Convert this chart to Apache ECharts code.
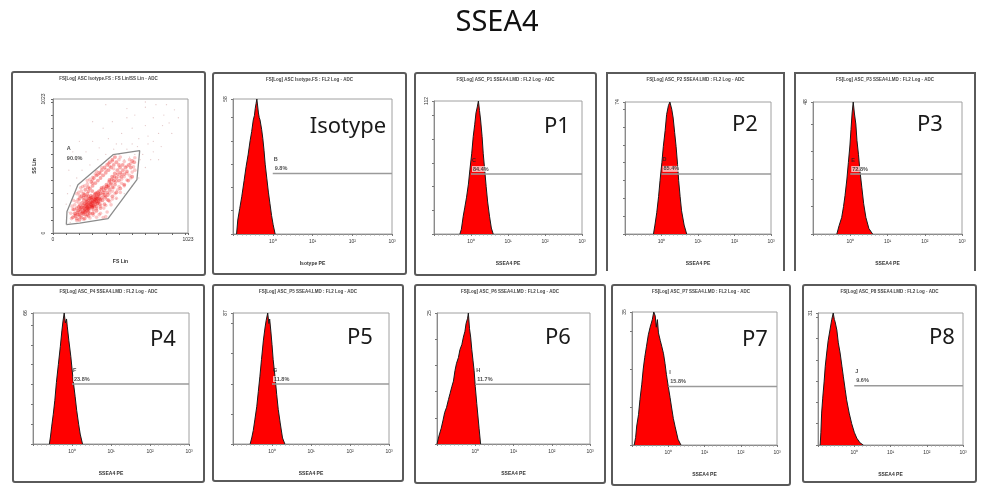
<!DOCTYPE html>
<html><head><meta charset="utf-8">
<script src="https://cdn.jsdelivr.net/npm/echarts@6/dist/echarts.min.js"></script>
<style>html,body{margin:0;padding:0;background:#fff}#c{width:994px;height:496px}</style>
</head><body><div id="c"></div>
<script>
// ---------------- DATA ----------------
const chartTitle = 'SSEA4';
const panelNames = ['Isotype', 'P1', 'P2', 'P3', 'P4', 'P5', 'P6', 'P7', 'P8'];
const panelHeaders = [
  'FS[Log] ASC Isotype.FS : FS Lin/SS Lin - ADC',
  'FS[Log] ASC Isotype.FS : FL2 Log - ADC',
  'FS[Log] ASC_P1 SSEA4.LMD : FL2 Log - ADC',
  'FS[Log] ASC_P2 SSEA4.LMD : FL2 Log - ADC',
  'FS[Log] ASC_P3 SSEA4.LMD : FL2 Log - ADC',
  'FS[Log] ASC_P4 SSEA4.LMD : FL2 Log - ADC',
  'FS[Log] ASC_P5 SSEA4.LMD : FL2 Log - ADC',
  'FS[Log] ASC_P6 SSEA4.LMD : FL2 Log - ADC',
  'FS[Log] ASC_P7 SSEA4.LMD : FL2 Log - ADC',
  'FS[Log] ASC_P8 SSEA4.LMD : FL2 Log - ADC'
];
const gateLetters = ['B', 'C', 'D', 'E', 'F', 'G', 'H', 'I', 'J'];
const gatePercents = ['9.8%', '84.4%', '85.4%', '72.8%', '23.8%', '11.8%', '11.7%', '15.8%', '9.6%'];
const yMaxLabels = [58, 112, 74, 48, 66, 87, 25, 35, 31];
const gateLevels = [26, 50.5, 33.7, 21.8, 30.2, 39.8, 11.4, 15.4, 13.9];
const xTickLabels = ['10⁰', '10¹', '10²', '10³'];
const xAxisNames = ['Isotype PE', 'SSEA4 PE', 'SSEA4 PE', 'SSEA4 PE', 'SSEA4 PE', 'SSEA4 PE', 'SSEA4 PE', 'SSEA4 PE', 'SSEA4 PE'];

// histograms: [log10(intensity), count]
const histIsotype = [[-0.91,0],[-0.88,6],[-0.83,11],[-0.78,16],[-0.72,23],[-0.67,29],[-0.62,34],[-0.57,40],[-0.53,44],[-0.49,49],[-0.46,51],[-0.44,54],[-0.42,56],[-0.40,58],[-0.38,55],[-0.36,52],[-0.34,50],[-0.32,49],[-0.28,45],[-0.25,41],[-0.22,36],[-0.19,30],[-0.15,24],[-0.11,18],[-0.07,13],[-0.03,8],[0.01,4],[0.06,0]];
const histP1 = [[-0.30,0],[-0.26,4],[-0.21,15],[-0.17,22],[-0.12,31],[-0.07,42],[-0.03,54],[0.02,68],[0.06,82],[0.10,92],[0.135,102],[0.17,107],[0.20,112],[0.23,104],[0.26,96],[0.30,82],[0.33,68],[0.37,54],[0.41,40],[0.45,27],[0.50,15],[0.55,5],[0.60,0]];
const histP2 = [[-0.22,0],[-0.18,5],[-0.13,12],[-0.08,21],[-0.04,30],[0.01,40],[0.05,49],[0.10,58],[0.14,67],[0.19,72],[0.23,74],[0.28,70],[0.32,65],[0.36,57],[0.40,49],[0.44,39],[0.47,30],[0.51,21],[0.55,13],[0.62,5],[0.69,0]];
const histP3 = [[-0.36,0],[-0.30,3],[-0.23,6],[-0.18,10],[-0.14,14],[-0.09,20],[-0.05,26],[-0.01,32],[0.02,38],[0.05,44],[0.08,48],[0.11,44],[0.15,40],[0.18,34],[0.22,29],[0.26,23],[0.31,17],[0.36,11],[0.42,6],[0.50,2],[0.60,0]];
const histP4 = [[-0.58,0],[-0.55,4],[-0.52,9],[-0.48,15],[-0.44,22],[-0.40,31],[-0.35,40],[-0.30,49],[-0.26,57],[-0.23,62],[-0.20,66],[-0.17,61],[-0.14,63],[-0.12,59],[-0.08,52],[-0.03,44],[0.03,32],[0.08,24],[0.12,17],[0.17,10],[0.21,5],[0.27,0]];
const histP5 = [[-0.56,0],[-0.52,4],[-0.48,9],[-0.44,16],[-0.39,25],[-0.35,35],[-0.31,45],[-0.27,56],[-0.22,69],[-0.18,77],[-0.15,82],[-0.11,87],[-0.08,80],[-0.06,83],[-0.03,75],[0.00,66],[0.03,56],[0.08,44],[0.12,33],[0.16,23],[0.21,14],[0.27,4],[0.33,0]];
const histP6 = [[-1.00,0],[-0.95,1.5],[-0.89,3],[-0.84,4.6],[-0.80,6],[-0.75,7],[-0.70,8.5],[-0.66,9.6],[-0.61,11],[-0.57,12],[-0.53,14],[-0.49,15.4],[-0.44,16.5],[-0.40,18],[-0.35,19],[-0.31,20.4],[-0.27,21.5],[-0.24,23],[-0.20,24],[-0.18,25],[-0.15,22],[-0.12,20.4],[-0.09,18],[-0.06,16],[-0.03,14],[0.00,11],[0.04,7.7],[0.10,3],[0.14,0]];
const histP7 = [[-0.94,0],[-0.90,2],[-0.87,5],[-0.82,8],[-0.78,12],[-0.73,16],[-0.69,20],[-0.65,23],[-0.60,26],[-0.55,29],[-0.50,31],[-0.44,33],[-0.40,35],[-0.36,34],[-0.33,31],[-0.30,33],[-0.27,29.5],[-0.22,27.5],[-0.18,26],[-0.13,24],[-0.09,21.5],[-0.05,18.5],[0.00,15.4],[0.05,12.5],[0.09,10],[0.14,7],[0.19,4.8],[0.27,1.5],[0.35,0]];
const histP8 = [[-0.94,0],[-0.92,3],[-0.90,7.5],[-0.87,11],[-0.83,15],[-0.80,18.5],[-0.76,21.6],[-0.72,24.5],[-0.67,27],[-0.62,29.5],[-0.58,31],[-0.55,29.5],[-0.53,29],[-0.48,27],[-0.44,24],[-0.39,21.6],[-0.34,18.5],[-0.30,16],[-0.25,13],[-0.21,10.6],[-0.14,7.5],[-0.07,5],[0.00,3],[0.07,1.6],[0.16,0.5],[0.25,0]];
const histograms = [histIsotype, histP1, histP2, histP3, histP4, histP5, histP6, histP7, histP8];

// scatter (FS Lin vs SS Lin, channels 0..1023)
const scatterMax = 1023;
const scatterCore = [[150,120],[165,150],[180,110],[190,170],[200,140],[210,190],[215,120],[225,160],[230,210],[240,180],[245,140],[250,230],[255,200],[260,170],[265,250],[270,215],[275,190],[280,150],[285,240],[290,270],[295,205],[300,230],[305,180],[310,260],[315,290],[320,220],[325,250],[330,200],[335,280],[340,310],[345,240],[350,265],[355,220],[360,300],[365,330],[370,270],[375,250],[380,310],[385,350],[390,290],[395,270],[400,340],[405,370],[410,310],[415,290],[420,360],[425,390],[430,330],[440,380],[445,410],[450,350],[460,400],[465,430],[470,370],[480,420],[490,450],[500,400],[510,460],[520,430],[530,480],[540,450],[550,500],[560,470],[575,520],[590,500],[600,550],[615,540],[220,230],[235,250],[250,280],[260,300],[270,320],[280,340],[300,360],[320,380],[340,400],[360,420],[380,440],[400,460],[420,480],[440,500],[460,520],[480,540],[500,520],[200,260],[215,280],[230,300],[245,330],[265,350],[290,390],[310,420],[330,440],[350,460],[370,480],[390,500],[410,520],[430,540],[450,560],[470,580],[200,100],[240,110],[270,130],[300,150],[330,170],[360,190],[390,220],[420,250],[450,280],[480,310],[510,340],[540,370],[570,400],[600,430],[260,195],[275,205],[285,220],[295,255],[305,210],[315,235],[325,265],[335,225],[345,285],[355,255],[235,170],[245,205],[255,215],[265,185],[275,265],[285,200],[290,230],[300,275],[310,240],[320,300],[330,260],[340,230],[350,320],[180,190],[190,140],[205,210],[210,165],[220,195],[228,145],[238,225],[248,165],[258,240],[268,160],[252,188],[262,222],[272,178],[282,262],[292,215],[302,245],[312,205],[322,275],[332,242],[342,262],[232,190],[242,160],[252,255],[278,232],[288,285],[298,195],[318,255],[328,305],[348,295],[368,345],[388,325],[408,355],[428,405],[448,430],[468,455],[488,480],[508,500],[528,520],[160,180],[172,130],[185,160],[195,200],[205,180],[218,150],[228,270],[238,290],[268,280],[298,320]];
const scatterWide = [[140,110],[180,95],[230,105],[280,115],[330,120],[380,118],[400,125],[135,150],[170,145],[260,140],[310,155],[360,150],[410,160],[145,205],[165,215],[300,200],[360,205],[400,210],[440,215],[155,250],[175,240],[190,255],[360,245],[410,255],[450,260],[480,265],[180,300],[195,310],[380,295],[430,305],[470,300],[510,310],[210,345],[225,355],[240,360],[420,350],[460,345],[500,355],[540,360],[260,400],[280,410],[300,405],[480,395],[520,410],[560,405],[590,420],[320,450],[340,445],[360,455],[520,450],[560,455],[600,465],[620,480],[370,500],[430,510],[560,510],[610,505],[450,550],[500,560],[540,545],[580,560],[620,575],[510,580],[160,130],[205,125],[255,130],[305,135],[350,140],[150,180],[195,230],[330,185],[385,190],[430,240],[200,285],[215,320],[400,280],[450,320],[490,330],[260,375],[300,380],[440,370],[470,390],[520,380],[300,425],[330,470],[500,430],[540,430],[580,440],[400,485],[460,490],[590,530],[420,530]];
const scatterSparse = [[120,480],[180,560],[250,620],[300,700],[350,650],[420,720],[480,680],[520,760],[560,640],[600,800],[650,720],[700,820],[720,680],[760,880],[800,760],[840,900],[880,840],[920,940],[680,600],[740,560],[620,900],[560,950],[450,850],[380,800],[300,850],[200,700],[150,620],[700,960],[820,660],[900,760],[640,660],[500,600],[460,640],[400,600],[340,560],[280,520],[220,480],[180,420],[130,360],[110,300],[650,420],[700,500],[760,620],[800,560],[540,300],[600,360],[480,260],[100,220],[120,160],[130,80],[560,880],[780,980],[860,980],[950,880],[700,1000],[400,980],[660,560],[620,600],[580,580],[540,560],[720,740],[760,700],[830,820],[600,680],[520,680],[460,580]];
const scatterGate = [[101,64],[106,165],[189,369],[455,598],[657,629],[636,407],[417,109],[202,76],[101,64]];
const scatterGateLetter = 'A';
const scatterGatePercent = '90.0%';

// ---------------- LAYOUT ----------------
const grids = [
  {left:53, top:99, width:135, height:134},
  {left:233, top:99, width:159, height:135},
  {left:434, top:101, width:148, height:133},
  {left:625, top:102, width:146, height:132},
  {left:813, top:102, width:149, height:132},
  {left:33, top:313, width:156, height:131},
  {left:233, top:313, width:156, height:131},
  {left:437, top:313, width:153, height:131},
  {left:632, top:312, width:145, height:133},
  {left:818, top:313, width:145, height:132}
];
const frames = [
  [12,72,205,275,true],[213,73,406,274,true],[415,73,596,275,true],[607,73,784,271,false],[795,73,975,271,false],
  [13,285,204,482,true],[213,285,403,481,true],[415,285,605,483,true],[612,285,790,485,true],[803,285,976,482,true]
];
const bigLabelPos = [[348,127],[557,127],[745,125],[930,125],[163,340],[360,338],[558,338],[755,340],[942,338]];

const tinyFont = {fontSize: 5, color: '#333', fontFamily: 'Arial, Liberation Sans'};
const axisGray = '#8a8a8a';

const xAxes = [], yAxes = [], series = [];
// scatter panel
xAxes.push({gridIndex:0, type:'value', min:0, max:scatterMax, splitNumber:10,
  name:'FS Lin', nameLocation:'middle', nameGap:26, nameTextStyle:{...tinyFont, fontWeight:'bold'},
  axisLine:{show:true, onZero:false, lineStyle:{color:axisGray}}, axisTick:{show:true, length:2, lineStyle:{color:'#666'}},
  axisLabel:{...tinyFont, margin:4, formatter:v => (v===0||v===scatterMax)?String(v):''},
  splitLine:{show:false}});
yAxes.push({gridIndex:0, type:'value', min:0, max:scatterMax, splitNumber:10,
  name:'SS Lin', nameLocation:'middle', nameGap:16, nameRotate:90, nameTextStyle:{...tinyFont, fontWeight:'bold'},
  axisLine:{show:true, onZero:false, lineStyle:{color:axisGray}}, axisTick:{show:true, length:2, lineStyle:{color:'#666'}},
  axisLabel:{...tinyFont, margin:7, rotate:90, formatter:v => (v===0||v===scatterMax)?String(v):''},
  splitLine:{show:false}});
series.push({type:'scatter', xAxisIndex:0, yAxisIndex:0, data:scatterSparse, symbolSize:1.3,
  itemStyle:{color:'rgba(190,120,120,0.5)'}, silent:true, z:2});
series.push({type:'scatter', xAxisIndex:0, yAxisIndex:0, data:scatterWide, symbolSize:3.6,
  itemStyle:{color:'rgba(240,60,60,0.35)'}, silent:true, z:3});
series.push({type:'scatter', xAxisIndex:0, yAxisIndex:0, data:scatterCore, symbolSize:3.8,
  itemStyle:{color:'rgba(235,20,20,0.45)'}, silent:true, z:3});
series.push({type:'line', xAxisIndex:0, yAxisIndex:0, data:scatterGate, symbol:'none',
  lineStyle:{color:'#8c8c8c', width:1.3}, silent:true, z:4});
series.push({type:'scatter', xAxisIndex:0, yAxisIndex:0, data:[[105,640]], symbolSize:0, silent:true, z:5,
  label:{show:true, position:[0,-6], formatter:scatterGateLetter+'\n'+scatterGatePercent, fontSize:5.5, lineHeight:10, color:'#222', fontWeight:'bold'}});

for (let i = 0; i < histograms.length; i++) {
  const gi = i + 1;
  const ymax = yMaxLabels[i];
  xAxes.push({gridIndex:gi, type:'value', min:-1, max:3, interval:1,
    name:xAxisNames[i], nameLocation:'middle', nameGap:27, nameTextStyle:{...tinyFont, fontWeight:'bold'},
    axisLine:{show:true, onZero:false, lineStyle:{color:axisGray}}, axisTick:{show:true, length:2, lineStyle:{color:'#777'}},
    minorTick:{show:true, splitNumber:9, length:1.5, lineStyle:{color:'#999'}},
    axisLabel:{...tinyFont, margin:5, formatter:v => (v>=0 && v<=3) ? xTickLabels[Math.round(v)] : ''},
    splitLine:{show:false}});
  yAxes.push({gridIndex:gi, type:'value', min:0, max:ymax, splitNumber:5,
    axisLine:{show:true, onZero:false, lineStyle:{color:axisGray}}, axisTick:{show:true, length:2, lineStyle:{color:'#777'}},
    axisLabel:{...tinyFont, margin:5, rotate:90, formatter:v => v===ymax ? String(v) : ''},
    splitLine:{show:false}});
  series.push({type:'line', xAxisIndex:gi, yAxisIndex:gi, data:histograms[i], symbol:'none', smooth:false,
    lineStyle:{color:'#1a1a1a', width:1}, areaStyle:{color:'#ff0000', opacity:1}, silent:true, z:2});
  series.push({type:'line', xAxisIndex:gi, yAxisIndex:gi, data:[[0,gateLevels[i]],[3,gateLevels[i]]], symbol:'none',
    lineStyle:{color:'#9a9a9a', width:1.5}, silent:true, z:3});
  series.push({type:'scatter', xAxisIndex:gi, yAxisIndex:gi, data:[[0,gateLevels[i]]], symbolSize:0, silent:true, z:4,
    label:{show:true, position:[1,-19], formatter:'{l|'+gateLetters[i]+'}\n{p|'+gatePercents[i]+'}',
      rich:{
        l:{fontSize:5.5, lineHeight:10, color:'#222', fontWeight:'bold', fontFamily:'Arial'},
        p:{fontSize:5.5, lineHeight:8, color:'#222', fontWeight:'bold', fontFamily:'Arial', backgroundColor:'rgba(255,255,255,0.85)', padding:[0,1]}
      }}});
}

const graphic = [];
graphic.push({type:'text', left:'center', top:8, style:{text:chartTitle, fontSize:29, fontFamily:'Noto Sans, Open Sans', fill:'#111'}});
frames.forEach((f, k) => {
  const [x1,y1,x2,y2,closed] = f;
  if (closed) {
    graphic.push({type:'rect', shape:{x:x1, y:y1, width:x2-x1, height:y2-y1, r:2}, style:{fill:'none', stroke:'#5a5a5a', lineWidth:2}, z:10});
  } else {
    graphic.push({type:'polyline', shape:{points:[[x1,y2],[x1,y1],[x2,y1],[x2,y2]]}, style:{fill:'none', stroke:'#5a5a5a', lineWidth:2}, z:10});
  }
  graphic.push({type:'text', x:(x1+x2)/2, y:y1+4, style:{text:panelHeaders[k], fontSize:4.5, fill:'#444', align:'center', fontFamily:'Arial', fontWeight:'bold'}, z:10});
});
panelNames.forEach((n, i) => {
  graphic.push({type:'text', x:bigLabelPos[i][0], y:bigLabelPos[i][1], style:{text:n, fontSize:22, fontFamily:'Noto Sans, Open Sans', fill:'#1a1a1a', align:'center', verticalAlign:'middle'}, z:10});
});

const chart = echarts.init(document.getElementById('c'), null, {renderer:'canvas'});
chart.setOption({
  animation:false,
  backgroundColor:'#fff',
  grid: grids.map(g => ({...g, show:true, borderColor:'#a0a0a0', borderWidth:1, containLabel:false})),
  xAxis: xAxes,
  yAxis: yAxes,
  series: series,
  graphic: graphic
});
</script></body></html>
